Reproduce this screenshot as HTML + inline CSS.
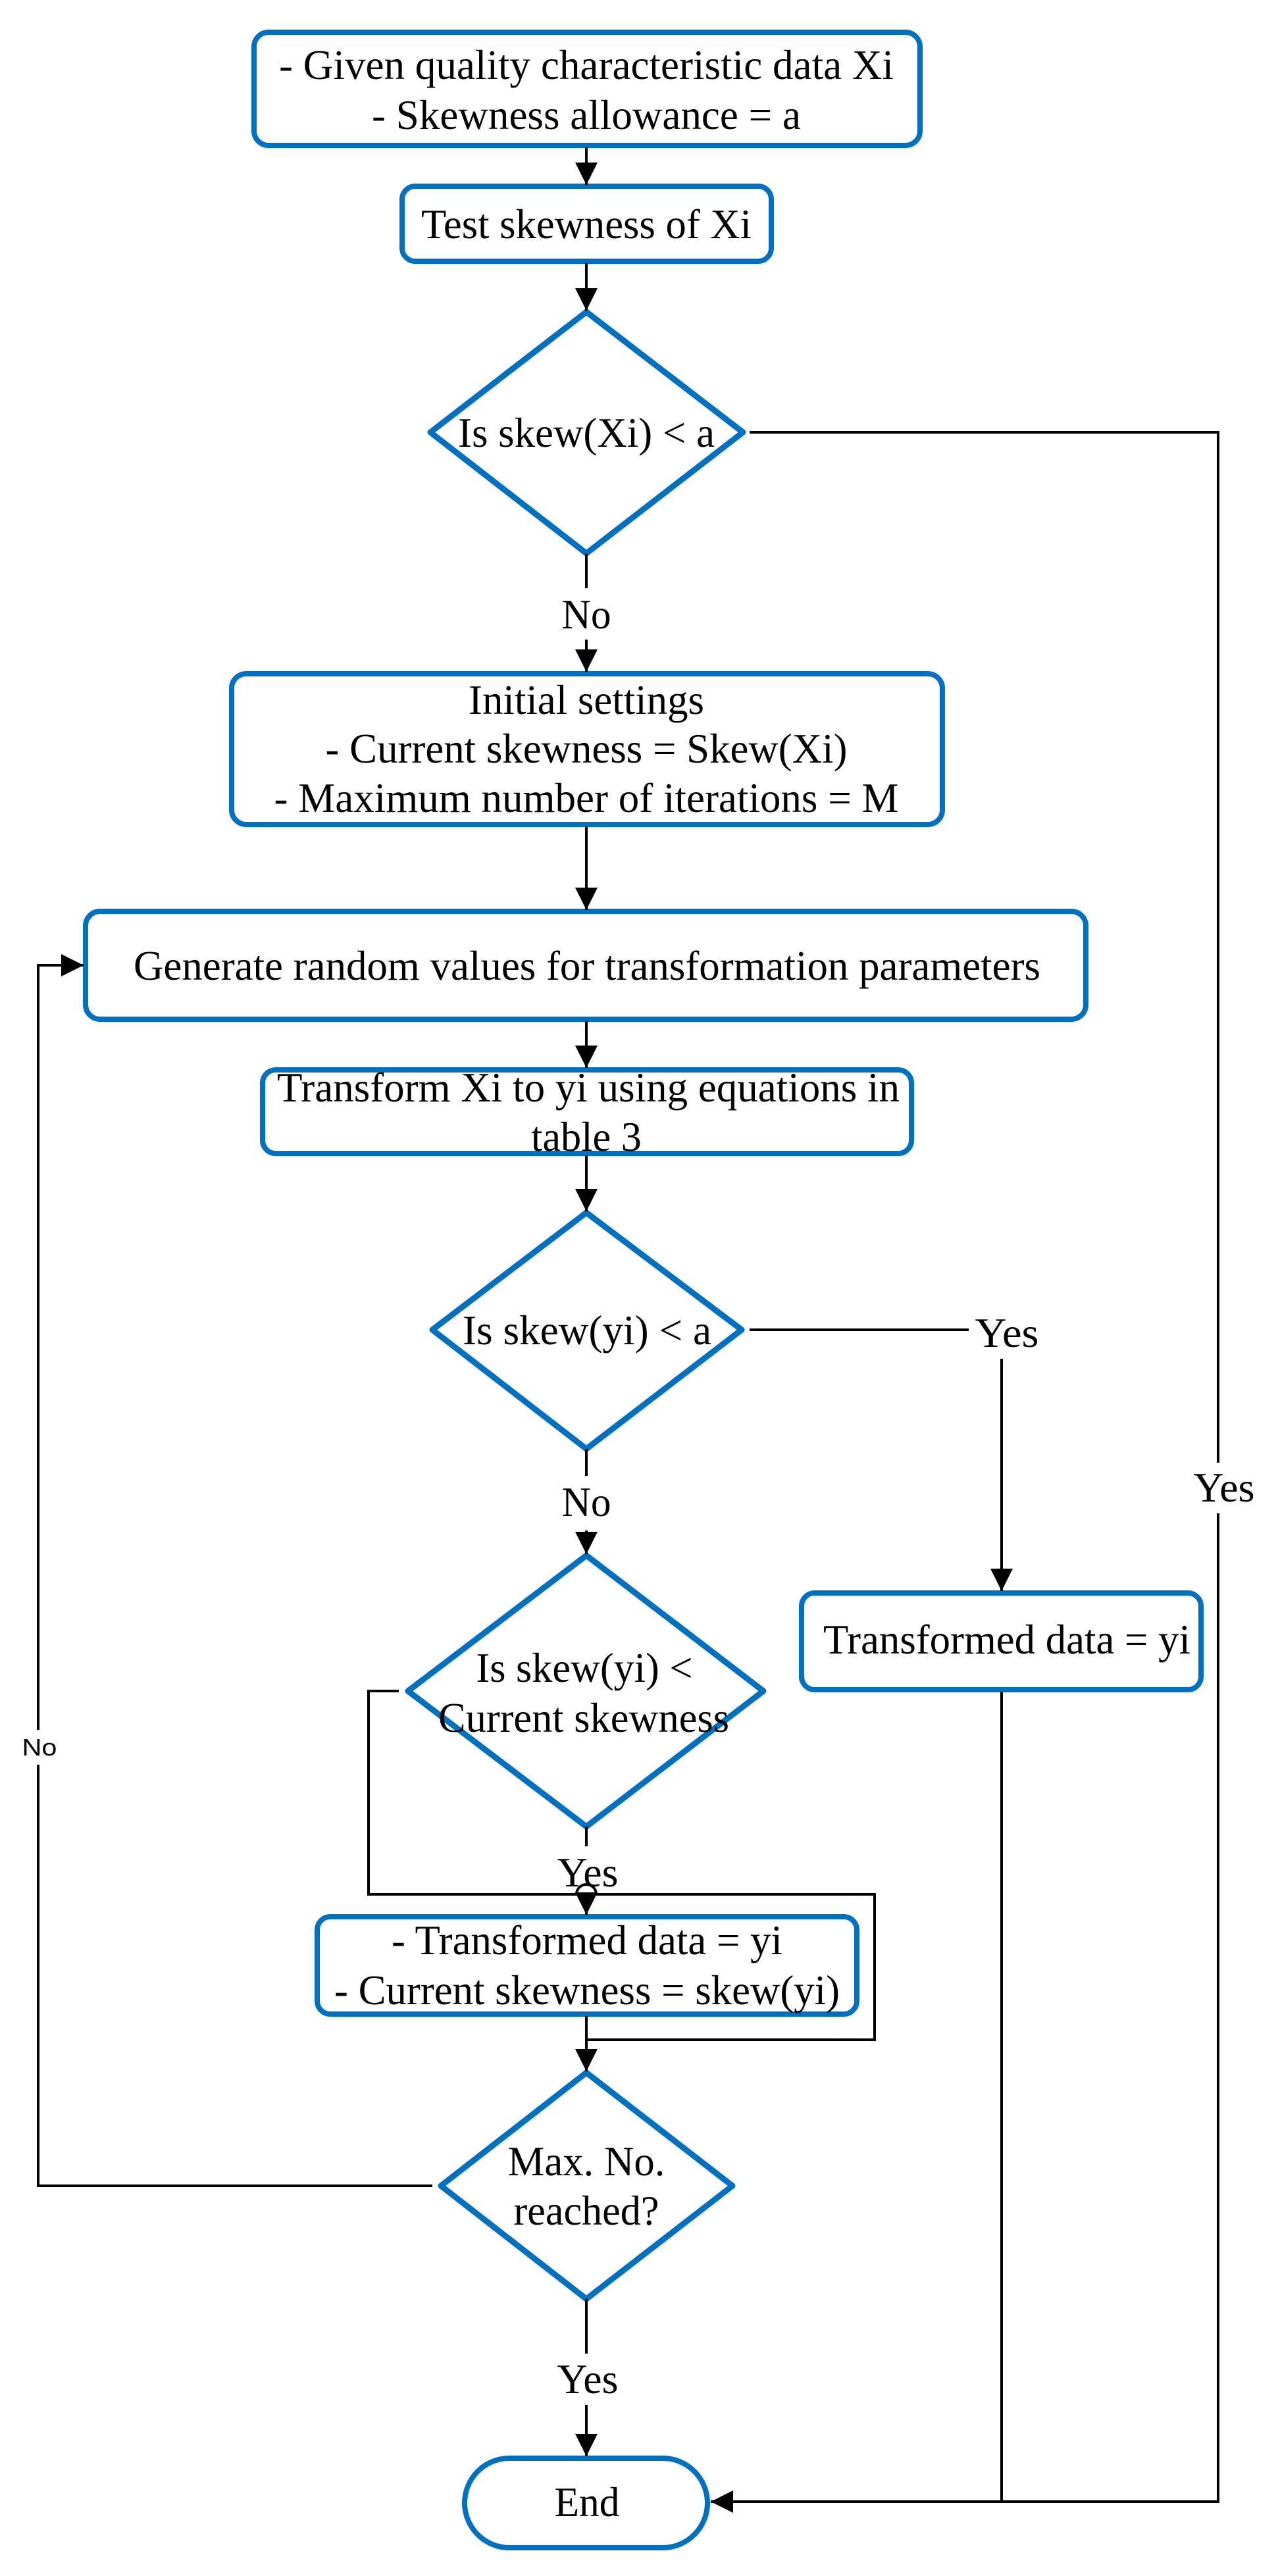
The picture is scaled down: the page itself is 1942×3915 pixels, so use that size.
<!DOCTYPE html>
<html><head><meta charset="utf-8"><style>html,body{margin:0;padding:0;background:#fff}svg{display:block}</style></head>
<body>
<svg width="1942" height="3915" viewBox="0 0 1942 3915" xmlns="http://www.w3.org/2000/svg">
<defs>
<marker id="a" markerWidth="36" markerHeight="36" refX="34" refY="17" orient="auto" markerUnits="userSpaceOnUse"><path d="M0,0 L34,17 L0,34 Z" fill="#000"/></marker>
</defs>
<g fill="none" stroke="#0070C0" stroke-width="8">
<rect x="386" y="49" width="1012" height="172" rx="22"/>
<rect x="611" y="283" width="561" height="114" rx="20"/>
<path d="M891,474 L1129,657 L891,841 L654,657 Z" stroke-linejoin="round" stroke-width="9"/>
<rect x="352" y="1024" width="1080" height="229" rx="22"/>
<rect x="130" y="1385" width="1520" height="164" rx="22"/>
<rect x="399" y="1626" width="986" height="127" rx="20"/>
<path d="M891,1843 L1127,2021 L891,2202 L657,2021 Z" stroke-linejoin="round" stroke-width="9"/>
<rect x="1218" y="2421" width="607" height="147" rx="20"/>
<path d="M891,2364 L1160,2570 L891,2776 L620,2570 Z" stroke-linejoin="round" stroke-width="9"/>
<rect x="482" y="2913" width="820" height="148" rx="20"/>
<path d="M891,3150 L1113,3322 L891,3494 L670,3322 Z" stroke-linejoin="round" stroke-width="9"/>
<rect x="706" y="3736" width="369" height="136" rx="68"/>
</g>
<g fill="none" stroke="#000" stroke-width="4">
<line x1="891" y1="224" x2="891" y2="281" marker-end="url(#a)"/>
<line x1="891" y1="400" x2="891" y2="472" marker-end="url(#a)"/>
<line x1="891" y1="841" x2="891" y2="894"/>
<line x1="891" y1="972" x2="891" y2="1021" marker-end="url(#a)"/>
<line x1="891" y1="1256" x2="891" y2="1383" marker-end="url(#a)"/>
<line x1="891" y1="1552" x2="891" y2="1623" marker-end="url(#a)"/>
<line x1="891" y1="1756" x2="891" y2="1841" marker-end="url(#a)"/>
<line x1="891" y1="2202" x2="891" y2="2243"/>
<line x1="891" y1="2326" x2="891" y2="2362" marker-end="url(#a)"/>
<line x1="891" y1="2776" x2="891" y2="2806"/>
<line x1="891" y1="2881" x2="891" y2="2910" marker-end="url(#a)"/>
<line x1="891" y1="3064" x2="891" y2="3148" marker-end="url(#a)"/>
<line x1="891" y1="3494" x2="891" y2="3577"/>
<line x1="891" y1="3655" x2="891" y2="3733" marker-end="url(#a)"/>
<polyline points="1139,657 1851,657 1851,2223"/>
<polyline points="1851,2300 1851,3802 1080,3802" marker-end="url(#a)"/>
<line x1="1522" y1="2571" x2="1522" y2="3802"/>
<line x1="1139" y1="2021" x2="1472" y2="2021"/>
<line x1="1522" y1="2065" x2="1522" y2="2418" marker-end="url(#a)"/>
<polyline points="657,3322 58,3322 58,2682"/>
<polyline points="58,2629 58,1467 127,1467" marker-end="url(#a)"/>
<path d="M606,2570 L560,2570 L560,2879 L876,2879 A15,15 0 0 1 906,2879 L1329,2879 L1329,3100 L891,3100"/>
</g>
<g font-family="'Liberation Serif','Times New Roman',serif" font-size="64" fill="#000" text-anchor="middle">
<text x="891" y="120" textLength="934" lengthAdjust="spacingAndGlyphs">- Given quality characteristic data Xi</text>
<text x="891" y="196" textLength="652" lengthAdjust="spacingAndGlyphs">- Skewness allowance = a</text>
<text x="891" y="362" textLength="502" lengthAdjust="spacingAndGlyphs">Test skewness of Xi</text>
<text x="891" y="679" textLength="390" lengthAdjust="spacingAndGlyphs">Is skew(Xi) &lt; a</text>
<text x="891" y="955" textLength="75" lengthAdjust="spacingAndGlyphs">No</text>
<text x="891" y="1085" textLength="358" lengthAdjust="spacingAndGlyphs">Initial settings</text>
<text x="891" y="1159" textLength="793" lengthAdjust="spacingAndGlyphs">- Current skewness = Skew(Xi)</text>
<text x="891" y="1234" textLength="949" lengthAdjust="spacingAndGlyphs">- Maximum number of iterations = M</text>
<text x="892" y="1489" textLength="1378" lengthAdjust="spacingAndGlyphs">Generate random values for transformation parameters</text>
<text x="894" y="1674" textLength="946" lengthAdjust="spacingAndGlyphs">Transform Xi to yi using equations in</text>
<text x="891" y="1749" textLength="168" lengthAdjust="spacingAndGlyphs">table 3</text>
<text x="892" y="2043" textLength="378" lengthAdjust="spacingAndGlyphs">Is skew(yi) &lt; a</text>
<text x="1530" y="2047" textLength="97" lengthAdjust="spacingAndGlyphs">Yes</text>
<text x="1530" y="2513" textLength="558" lengthAdjust="spacingAndGlyphs">Transformed data = yi</text>
<text x="1860" y="2282" textLength="93" lengthAdjust="spacingAndGlyphs">Yes</text>
<text x="891" y="2304" textLength="75" lengthAdjust="spacingAndGlyphs">No</text>
<text x="888" y="2556" textLength="329" lengthAdjust="spacingAndGlyphs">Is skew(yi) &lt;</text>
<text x="887" y="2632" textLength="442" lengthAdjust="spacingAndGlyphs">Current skewness</text>
<text x="893" y="2867" textLength="93" lengthAdjust="spacingAndGlyphs">Yes</text>
<text x="892" y="2970" textLength="594" lengthAdjust="spacingAndGlyphs">- Transformed data = yi</text>
<text x="892" y="3046" textLength="768" lengthAdjust="spacingAndGlyphs">- Current skewness = skew(yi)</text>
<text x="891" y="3306" textLength="239" lengthAdjust="spacingAndGlyphs">Max. No.</text>
<text x="891" y="3381" textLength="221" lengthAdjust="spacingAndGlyphs">reached?</text>
<text x="893" y="3637" textLength="93" lengthAdjust="spacingAndGlyphs">Yes</text>
<text x="892" y="3824" textLength="99" lengthAdjust="spacingAndGlyphs">End</text>
</g>
<text x="60" y="2668" font-family="'Liberation Sans',Arial,sans-serif" font-size="36" text-anchor="middle" textLength="53" lengthAdjust="spacingAndGlyphs">No</text>
</svg>
</body></html>
